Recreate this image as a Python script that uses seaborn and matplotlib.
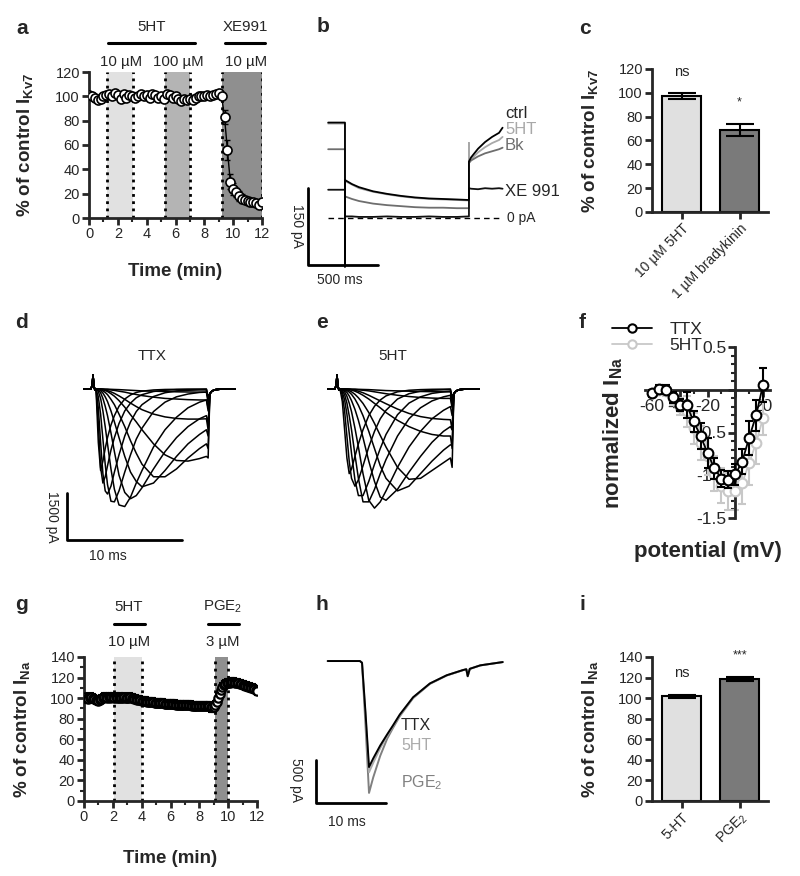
import numpy as np
import pandas as pd
import matplotlib
matplotlib.use("Agg")
import matplotlib.pyplot as plt
from matplotlib.lines import Line2D
from matplotlib.ticker import MultipleLocator, FixedLocator, FixedFormatter
import seaborn as sns

# ---------------- data ----------------
# a: Kv7 current (% of control), one point every 0.2 min
A_TIME = np.linspace(0, 12, 61)
A_PCT = [101, 100, 99, 97, 98, 100, 101, 102, 100, 103,
         101, 98, 102, 99, 101, 100, 99, 100, 102, 100,
         101, 99, 102, 101, 99, 100, 98, 102, 101, 99,
         100, 98, 96, 98, 97, 98, 97, 99, 100, 100,
         100, 101, 100, 101, 102, 103, 100, 83, 56, 30,
         24, 21, 18, 16, 15, 14, 13, 13, 12, 11, 13]
A_SEM = [2] * 47 + [6, 8, 6, 5, 4, 4, 4, 3, 3, 3, 3, 3, 3, 3]
A_APPS = [(1.25, 3.05), (5.25, 7.0), (9.2, 12.0)]
A_APP_COLORS = ["#e1e1e1", "#b4b4b4", "#8f8f8f"]

# b: Kv7 deactivation traces (ms, pA)
B_T = [-120, 0, 0, 0, 50, 100, 200, 300, 400, 500, 600, 700, 800, 885,
       885, 885, 900, 950, 1000, 1050, 1100, 1125]
B_CTRL = [186, 186, -95, 74, 66, 60, 52, 47, 43, 40, 38, 37, 36, 35,
          110, 110, 118, 135, 148, 158, 166, 176]
B_5HT = [184, 184, 72, 72, 65, 58, 51, 46, 42, 39, 37, 36, 35, 34,
         146, 108, 114, 128, 138, 146, 152, 158]
B_BK = [134, 134, 42, 42, 37, 33, 28, 25, 23, 21, 20, 20, 19, 19,
        19, 107, 112, 120, 126, 130, 134, 137]
B_XE = [55, 55, 3, 3, 3, 2, 2, 3, 2, 2, 3, 2, 2, 3,
        3, 58, 57, 56, 58, 57, 58, 57]

# c: Kv7 summary
C_LABELS = ["10 µM 5HT", "1 µM bradykinin"]
C_MEAN = [97, 69]
C_SEM = [2.5, 5]
C_SIG = ["ns", "*"]

# d / e: Na current families (ms, pA)
PRE_T = [-1.04, -0.45, -0.33, -0.26, -0.19, -0.1, -0.02]
PRE_V = [0, 0, 120, 450, 120, -30, 0]
STEP_T = [0, 0.2, 0.4, 0.6, 0.8, 1.0, 1.3, 1.6, 2.0, 2.5, 3.0, 3.5, 4.0,
          5.0, 6.0, 7.0, 8.0, 9.0, 9.6]
POST_T = [9.75, 9.9, 10.1, 10.4, 11.0, 12.1]
POST_V = [-150, -60, -20, 0, 0]

D_SWEEPS = [
    [0, -1700, -2600, -2300, -1900, -1550, -1150, -850, -550, -320, -190, -110, -70, -30, -15, -10, -5, -5, 0],
    [0, -1100, -2500, -3000, -2800, -2450, -1950, -1550, -1100, -700, -450, -280, -180, -80, -40, -20, -15, -10, -10],
    [0, -600, -1700, -2700, -3250, -3350, -3100, -2650, -2100, -1500, -1050, -720, -500, -240, -120, -60, -40, -30, -30],
    [0, -250, -800, -1600, -2400, -3050, -3580, -3600, -3250, -2650, -2100, -1600, -1250, -720, -420, -250, -160, -110, -100],
    [0, -80, -300, -700, -1200, -1750, -2550, -3200, -3700, -3750, -3450, -3000, -2600, -1850, -1300, -900, -600, -420, -350],
    [0, -30, -120, -300, -550, -850, -1400, -2000, -2750, -3300, -3500, -3400, -3150, -2550, -2000, -1550, -1200, -950, -850],
    [0, -10, -50, -130, -250, -400, -700, -1050, -1550, -2150, -2650, -2950, -3120, -3000, -2600, -2150, -1750, -1450, -1300],
    [0, -5, -20, -60, -110, -180, -330, -500, -800, -1200, -1650, -2050, -2400, -2800, -2800, -2550, -2200, -1900, -1750],
    [0, 0, -10, -25, -50, -80, -150, -230, -370, -580, -820, -1050, -1300, -1750, -2100, -2280, -2300, -2220, -2150],
    [0, 0, -5, -15, -30, -50, -90, -140, -220, -330, -450, -560, -660, -800, -890, -940, -960, -960, -950],
    [0, 0, 0, -5, -10, -15, -30, -45, -70, -100, -140, -175, -210, -260, -300, -320, -340, -350, -350],
    [0, 0, 0, 0, -5, -5, -10, -15, -20, -30, -40, -50, -60, -70, -80, -90, -95, -100, -100],
]
D_TAILS = [-250, -300, -350, -450, -700, -1100, -1500, -1900, -2200, -1300, -600, -250]

E_SWEEPS = [
    [0, -400, -1300, -2200, -2700, -2550, -2150, -1750, -1300, -850, -550, -350, -220, -90, -40, -20, -10, -5, 0],
    [0, -200, -700, -1500, -2300, -2850, -3100, -2900, -2450, -1850, -1350, -950, -680, -320, -150, -70, -40, -25, -20],
    [0, -100, -350, -800, -1400, -2050, -2900, -3400, -3400, -2950, -2400, -1900, -1450, -820, -450, -250, -140, -90, -70],
    [0, -50, -180, -450, -850, -1300, -2100, -2850, -3600, -3600, -3200, -2700, -2250, -1500, -950, -600, -380, -250, -200],
    [0, -20, -90, -230, -450, -720, -1250, -1850, -2700, -3550, -3800, -3600, -3250, -2500, -1850, -1350, -950, -680, -560],
    [0, -10, -40, -110, -220, -370, -650, -1000, -1550, -2300, -2950, -3450, -3550, -3200, -2650, -2150, -1700, -1350, -1200],
    [0, -5, -20, -50, -100, -170, -320, -520, -850, -1350, -1900, -2450, -2850, -3250, -3100, -2700, -2300, -1950, -1780],
    [0, 0, -10, -25, -50, -90, -170, -280, -460, -750, -1100, -1480, -1850, -2500, -2880, -2850, -2600, -2350, -2200],
    [0, 0, -5, -10, -20, -35, -70, -120, -200, -320, -460, -600, -750, -1000, -1200, -1350, -1450, -1500, -1500],
    [0, 0, 0, -5, -10, -20, -40, -70, -120, -200, -290, -380, -470, -640, -780, -880, -940, -970, -980],
    [0, 0, 0, 0, -5, -10, -15, -25, -40, -60, -90, -120, -150, -200, -240, -270, -290, -300, -300],
    [0, 0, 0, 0, 0, -5, -5, -10, -15, -20, -30, -40, -50, -60, -70, -80, -85, -90, -90],
]
E_TAILS = [-250, -300, -400, -550, -850, -1300, -1800, -2500, -1900, -1300, -600, -250]

# f: normalized I-V
F_MV = [-60, -55, -50, -45, -40, -35, -30, -25, -20, -15, -10, -5, 0, 5, 10, 15, 20]
F_TTX = [-0.04, 0.01, 0.0, -0.09, -0.18, -0.18, -0.37, -0.54, -0.74, -0.92,
         -1.04, -1.05, -0.99, -0.84, -0.56, -0.30, 0.06]
F_TTX_SEM = [0.04, 0.05, 0.05, 0.06, 0.07, 0.15, 0.12, 0.15, 0.18, 0.12,
             0.1, 0.1, 0.12, 0.15, 0.2, 0.18, 0.2]
F_5HT = [-0.04, 0.0, -0.01, -0.10, -0.20, -0.25, -0.45, -0.62, -0.78, -0.98,
         -1.12, -1.19, -1.19, -1.09, -0.86, -0.62, -0.33]
F_5HT_SEM = [0.04, 0.05, 0.06, 0.08, 0.1, 0.18, 0.18, 0.2, 0.22, 0.2,
             0.2, 0.22, 0.22, 0.25, 0.25, 0.25, 0.2]

# g: Na current time course, one point every 0.1 min
G_TIME = np.linspace(0, 12, 121)
G_PCT = [100, 101, 100, 99, 100, 101, 100, 99, 98, 98, 97,
         98, 99, 100, 101, 101, 100, 101, 100, 101, 101,
         100, 101, 100, 100, 101, 100, 100, 101, 100, 100,
         100, 101, 100, 100, 99, 99, 98, 98, 98, 97,
         97, 97, 97, 96, 96, 96, 96, 96, 95, 95,
         95, 95, 95, 95, 95, 94, 94, 94, 94, 94,
         94, 94, 94, 93, 93, 93, 93, 93, 93, 93,
         93, 93, 93, 93, 92, 92, 92, 92, 92, 92,
         92, 92, 92, 92, 92, 92, 92, 91, 91, 91,
         93, 96, 100, 104, 108, 111, 113, 114, 115, 115,
         115, 116, 116, 116, 115, 115, 115, 114, 114, 113,
         113, 112, 112, 111, 111, 110, 110, 109, 108, 107]
G_SEM = 4
G_APPS = [(2.1, 4.0), (9.1, 10.0)]
G_APP_COLORS = ["#e1e1e1", "#8f8f8f"]

# h: single Na currents (ms, pA)
H_T = [-4.9, -0.3, 0, 0.5, 1.0, 1.6, 2.6, 3.6, 4.4, 5.4, 7.3, 9.7, 12.1,
       14.4, 14.9, 15.1, 15.4, 16.9, 20.1]
H_TTX = [0, 0, -20, -600, -1230, -1130, -980, -850, -750, -620, -420, -260, -165,
         -105, -95, -175, -90, -50, -12]
H_5HT = [0, 0, -20, -630, -1290, -1180, -1010, -865, -760, -628, -425, -262, -166,
         -106, -96, -176, -91, -50, -12]
H_PGE2 = [0, 0, -20, -750, -1530, -1350, -1100, -900, -780, -640, -430, -265, -168,
          -107, -97, -178, -92, -51, -12]

# i: Na summary
I_LABELS = ["5-HT", "PGE$_2$"]
I_MEAN = [102, 119]
I_SEM = [1.5, 2]
I_SIG = ["ns", "***"]

BAR_COLORS = ["#e0e0e0", "#7a7a7a"]

# ---------------- style ----------------
sns.set_style("ticks")
plt.rcParams["font.family"] = ["Liberation Sans", "DejaVu Sans"]
plt.rcParams["mathtext.fontset"] = "custom"
plt.rcParams["mathtext.rm"] = "Liberation Sans"
plt.rcParams["mathtext.it"] = "Liberation Sans:italic"
plt.rcParams["mathtext.bf"] = "Liberation Sans:bold"

W, H = 800, 876
fig = plt.figure(figsize=(W / 100, H / 100), dpi=100)


def add_ax(l, t, r, b):
    return fig.add_axes([l / W, 1 - b / H, (r - l) / W, (b - t) / H])


def ftext(x, y, s, **kw):
    kw.setdefault("ha", "center")
    kw.setdefault("va", "center")
    fig.text(x / W, 1 - y / H, s, **kw)


def fline(x0, x1, y):
    fig.add_artist(Line2D([x0 / W, x1 / W], [1 - y / H, 1 - y / H], color="black", lw=2.2))


def prism(ax):
    sns.despine(ax=ax)
    for s in ["left", "bottom"]:
        ax.spines[s].set_linewidth(2)
    ax.tick_params(which="major", length=5, width=2, labelsize=10.5, pad=1.5)
    ax.tick_params(which="minor", length=3, width=1.5)


def label_at(ax, l, t, r, b, xl=None, yl=None):
    # place axis labels at pixel offsets
    if yl is not None:
        ax.yaxis.set_label_coords((yl - l) / (r - l), 0.5)
    if xl is not None:
        ax.xaxis.set_label_coords(0.5, -(xl - b) / (b - t))


YLAB = dict(fontsize=13.5, fontweight="bold")

# ---- panel a ----
box = (89, 72, 262, 218)
ax = add_ax(*box)
for (x0, x1), c in zip(A_APPS, A_APP_COLORS):
    ax.axvspan(x0, x1, color=c, lw=0, zorder=0)
    for xx in (x0, x1):
        ax.axvline(xx, color="black", ls=(0, (1, 1.6)), lw=2, zorder=1)
ax.errorbar(A_TIME, A_PCT, yerr=A_SEM, fmt="none", ecolor="black", elinewidth=1,
            capsize=2.5, capthick=1, zorder=2)
sns.lineplot(x=A_TIME, y=A_PCT, ax=ax, color="black", lw=1, marker="o", markersize=6.5,
             markerfacecolor="white", markeredgecolor="black", markeredgewidth=1.2,
             estimator=None, zorder=3)
ax.set_xlim(0, 12)
ax.set_ylim(0, 120)
ax.xaxis.set_major_locator(MultipleLocator(2))
ax.xaxis.set_minor_locator(MultipleLocator(1))
ax.yaxis.set_major_locator(MultipleLocator(20))
prism(ax)
ax.set_xlabel("Time (min)", **YLAB)
ax.set_ylabel("% of control I$_\\mathbf{Kv7}$", **YLAB)
label_at(ax, *box, xl=263, yl=35)
ftext(152, 27, "5HT", fontsize=10.8)
fline(108, 195, 43)
ftext(121, 62, "10 µM", fontsize=10.8)
ftext(178, 62, "100 µM", fontsize=10.8)
ftext(245, 27, "XE991", fontsize=10.8)
fline(225, 265, 43)
ftext(246, 62, "10 µM", fontsize=10.8)

# ---- panel b ----
ax = add_ax(300, 100, 560, 280)
b_df = pd.concat([
    pd.DataFrame({"t": B_T, "I": B_5HT, "cond": "5HT"}),
    pd.DataFrame({"t": B_T, "I": B_BK, "cond": "Bk"}),
    pd.DataFrame({"t": B_T, "I": B_XE, "cond": "XE 991"}),
    pd.DataFrame({"t": B_T, "I": B_CTRL, "cond": "ctrl"}),
])
sns.lineplot(data=b_df, x="t", y="I", hue="cond", estimator=None, sort=False, ax=ax,
             palette={"ctrl": "black", "5HT": "#a8a8a8", "Bk": "#6e6e6e", "XE 991": "#111111"},
             lw=1.3, legend=False)
ax.plot([B_T[0], B_T[-1]], [0, 0], color="black", ls=(0, (4, 3)), lw=1)
ax.plot([-264, -264, 236], [-92 + 150, -92, -92], color="black", lw=2, clip_on=False)
ax.set_xlim(-321, 1535)
ax.set_ylim(-121, 230)
ax.axis("off")
ftext(297, 226, "150 pA", fontsize=10, rotation=-90)
ftext(340, 280, "500 ms", fontsize=10)
ftext(505, 113, "ctrl", fontsize=12, ha="left")
ftext(505, 129, "5HT", fontsize=12, ha="left", color="#a8a8a8")
ftext(505, 145, "Bk", fontsize=12, ha="left", color="#6e6e6e")
ftext(505, 191, "XE 991", fontsize=12, ha="left")
ftext(507, 218, "0 pA", fontsize=10, ha="left")


# ---- panels c and i ----
def bar_panel(box, labels, mean, sem, sig, ymax, ylab):
    ax = add_ax(*box)
    sns.barplot(x=labels, y=mean, hue=labels, palette=BAR_COLORS, legend=False, width=0.67,
                saturation=1, edgecolor="black", linewidth=1.5, errorbar=None, ax=ax)
    ax.errorbar([0, 1], mean, yerr=sem, fmt="none", ecolor="black", elinewidth=1.5,
                capsize=10, capthick=1.5)
    for i, (m, s, txt) in enumerate(zip(mean, sem, sig)):
        ax.text(i, m + s + ymax * 0.15, txt, ha="center", va="center",
                fontsize=10.5 if txt == "ns" else 9, clip_on=False)
    ax.set_xlim(-0.51, 1.49)
    ax.set_ylim(0, ymax)
    ax.yaxis.set_major_locator(MultipleLocator(20))
    ax.set_xticks([0, 1])
    ax.set_xticklabels(labels, rotation=45, ha="right", rotation_mode="anchor")
    prism(ax)
    ax.tick_params(axis="x", labelsize=10)
    ax.set_xlabel("")
    ax.set_ylabel(ylab, **YLAB)
    label_at(ax, *box, yl=600)
    return ax


bar_panel((652, 69, 768, 212), C_LABELS, C_MEAN, C_SEM, C_SIG, 120,
          "% of control I$_\\mathbf{Kv7}$")
bar_panel((652, 657, 768, 801), I_LABELS, I_MEAN, I_SEM, I_SIG, 140,
          "% of control I$_\\mathbf{Na}$")


# ---- panels d and e ----
def family_panel(box, sweeps, tails):
    ax = add_ax(*box)
    frames = []
    for k, (sw, tail) in enumerate(zip(sweeps, tails)):
        frames.append(pd.DataFrame({"t": PRE_T + STEP_T + POST_T,
                                    "I": PRE_V + sw + [tail] + POST_V, "sweep": k}))
    df = pd.concat(frames)
    sns.lineplot(data=df, x="t", y="I", units="sweep", estimator=None, sort=False,
                 color="black", lw=1.1, ax=ax)
    ax.set_xlim(-4.87, 15.13)
    ax.set_ylim(-5455, 1563)
    ax.axis("off")
    return ax


ax = family_panel((40, 340, 270, 560), D_SWEEPS, D_TAILS)
ax.plot([-2.52, -2.52, 7.48], [-4817 + 1500, -4817, -4817], color="black", lw=2, clip_on=False)
ftext(52, 517, "1500 pA", fontsize=10, rotation=-90)
ftext(108, 556, "10 ms", fontsize=10)
ftext(152, 356, "TTX", fontsize=11)

family_panel((284, 340, 514, 560), E_SWEEPS, E_TAILS)
ftext(393, 356, "5HT", fontsize=11)

# ---- panel f ----
box = (645, 347, 770, 518)
ax = add_ax(*box)
ax.errorbar(F_MV, F_5HT, yerr=F_5HT_SEM, fmt="none", ecolor="#c8c8c8", elinewidth=1.5,
            capsize=3, capthick=1.5, zorder=2)
sns.lineplot(x=F_MV, y=F_5HT, ax=ax, color="#c8c8c8", lw=1.3, marker="o", markersize=7,
             markerfacecolor="white", markeredgecolor="#c8c8c8", markeredgewidth=1.5,
             estimator=None, zorder=3)
ax.errorbar(F_MV, F_TTX, yerr=F_TTX_SEM, fmt="none", ecolor="black", elinewidth=1.5,
            capsize=3, capthick=1.5, zorder=4)
sns.lineplot(x=F_MV, y=F_TTX, ax=ax, color="black", lw=1.3, marker="o", markersize=7,
             markerfacecolor="white", markeredgecolor="black", markeredgewidth=1.5,
             estimator=None, zorder=5)
ax.set_xlim(-65, 25)
ax.set_ylim(-1.5, 0.5)
prism(ax)
ax.spines["left"].set_position(("data", 0))
ax.spines["bottom"].set_position(("data", 0))
ax.xaxis.set_major_locator(FixedLocator([-60, -40, -20, 0, 20]))
ax.xaxis.set_major_formatter(FixedFormatter(["-60", "-40", "-20", "", "20"]))
ax.xaxis.set_minor_locator(MultipleLocator(10))
ax.yaxis.set_major_locator(FixedLocator([-1.5, -1.0, -0.5, 0, 0.5]))
ax.yaxis.set_major_formatter(FixedFormatter(["-1.5", "-1.0", "-0.5", "", "0.5"]))
ax.yaxis.set_minor_locator(MultipleLocator(0.1))
ax.tick_params(labelsize=12.5)
ax.set_xlabel("potential (mV)", fontsize=16, fontweight="bold")
ax.set_ylabel("normalized I$_\\mathbf{Na}$", fontsize=16, fontweight="bold")
label_at(ax, *box, xl=541, yl=625)
handles = [Line2D([], [], color=c, lw=1.3, marker="o", markersize=6, markerfacecolor="white",
                  markeredgecolor=c, markeredgewidth=1.5) for c in ("black", "#c8c8c8")]
fig.legend(handles, ["TTX", "5HT"], loc="upper left", bbox_to_anchor=(612 / W, 1 - 322 / H),
           frameon=False, fontsize=12.5, handlelength=2.3, handletextpad=1.0,
           labelspacing=0.05, borderaxespad=0, borderpad=0)

# ---- panel g ----
box = (84, 657, 257, 801)
ax = add_ax(*box)
for (x0, x1), c in zip(G_APPS, G_APP_COLORS):
    ax.axvspan(x0, x1, color=c, lw=0, zorder=0)
    for xx in (x0, x1):
        ax.axvline(xx, color="black", ls=(0, (1, 1.6)), lw=2, zorder=1)
ax.errorbar(G_TIME, G_PCT, yerr=G_SEM, fmt="none", ecolor="black", elinewidth=1.5,
            capsize=2, capthick=1.5, zorder=2)
sns.lineplot(x=G_TIME, y=G_PCT, ax=ax, color="black", lw=1, marker="o", markersize=6,
             markerfacecolor="white", markeredgecolor="black", markeredgewidth=1.6,
             estimator=None, zorder=3)
ax.set_xlim(0, 12)
ax.set_ylim(0, 140)
ax.xaxis.set_major_locator(MultipleLocator(2))
ax.xaxis.set_minor_locator(MultipleLocator(1))
ax.yaxis.set_major_locator(MultipleLocator(20))
ax.yaxis.set_minor_locator(MultipleLocator(10))
prism(ax)
ax.set_xlabel("Time (min)", **YLAB)
ax.set_ylabel("% of control I$_\\mathbf{Na}$", **YLAB)
label_at(ax, *box, xl=850, yl=32)
ftext(129, 607, "5HT", fontsize=10.8)
fline(114, 145, 624)
ftext(129, 642, "10 µM", fontsize=10.8)
ftext(223, 607, "PGE$_2$", fontsize=10.8)
fline(208, 239, 624)
ftext(223, 642, "3 µM", fontsize=10.8)

# ---- panel h ----
ax = add_ax(290, 640, 540, 840)
h_df = pd.concat([
    pd.DataFrame({"t": H_T, "I": H_PGE2, "cond": "PGE2"}),
    pd.DataFrame({"t": H_T, "I": H_5HT, "cond": "5HT"}),
    pd.DataFrame({"t": H_T, "I": H_TTX, "cond": "TTX"}),
])
sns.lineplot(data=h_df, x="t", y="I", hue="cond", estimator=None, sort=False, ax=ax,
             palette={"TTX": "black", "5HT": "#aaaaaa", "PGE2": "#808080"}, lw=1.4,
             legend=False)
ax.plot([-6.57, -6.57, 3.43], [-1647 + 500, -1647, -1647], color="black", lw=2, clip_on=False)
ax.set_xlim(-10.29, 25.43)
ax.set_ylim(-2076, 244)
ax.axis("off")
ftext(296, 780, "500 pA", fontsize=10, rotation=-90)
ftext(347, 822, "10 ms", fontsize=10)
ftext(401, 726, "TTX", fontsize=11.5, ha="left")
ftext(401, 746, "5HT", fontsize=11.5, ha="left", color="#aaaaaa")
ftext(401, 783, "PGE$_2$", fontsize=11.5, ha="left", color="#808080")

# ---- panel letters ----
for s, x, y in [("a", 22, 28), ("b", 323, 27), ("c", 585, 28), ("d", 22, 322), ("e", 322, 322),
                ("f", 582, 323), ("g", 22, 604), ("h", 322, 604), ("i", 582, 604)]:
    ftext(x, y, s, fontsize=15, fontweight="bold")

fig.savefig("out.png", dpi=100, facecolor="white")
